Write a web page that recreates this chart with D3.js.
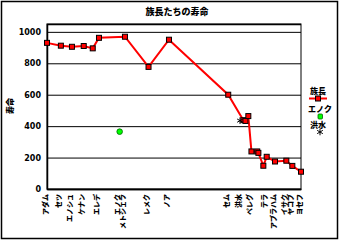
<!DOCTYPE html>
<html><head><meta charset="utf-8">
<script src="https://cdn.jsdelivr.net/npm/d3@7"></script>
<style>body{margin:0;background:#fff} svg{display:block}</style>
</head><body>
<script>
// Patriarchs (族長) – birth year and lifespan
const names = ["アダム","セツ","エノシュ","ケナン","マハラルエル","エレデ","メトシェラ","レメク","ノア","セム","アルパクシャデ","シェラフ","エベル","ペレグ","レウ","セルグ","ナホル","テラ","アブラハム","イサク","ヤコブ","ヨセフ"];
const birthYears = [0,120,216,318,396,450,675,879,1056,1569,1700,1718,1743,1770,1820,1830,1873,1902,1974,2072,2124,2199];
const lifespans = [930,912,905,910,895,962,969,777,950,600,438,433,464,239,239,230,148,205,175,180,147,110];
// Enoch (エノク)
const enochYear = [629];
const enochAge = [365];
// Flood (洪水)
const floodYear = [1671];
const floodValue = [435];
// x-axis labels shown
const xLabels = ["アダム","セツ","エノシュ","ケナン","エレデ","エノク","メトシェラ","レメク","ノア","セム","洪水","ペレグ","テラ","アブラハム","イサク","ヤコブ","ヨセフ"];
const xLabelYears = [0,120,216,318,450,629,675,879,1056,1569,1671,1770,1902,1974,2072,2124,2199];
const yTicks = [0,200,400,600,800,1000];
const title = "族長たちの寿命";
const yTitle = "寿命";
const legendNames = ["族長","エノク","洪水"];

const W = 340, H = 242;
const L = 47, R = 301, T = 24, B = 189;
const cjk = "'Noto Sans CJK JP', sans-serif";

const svg = d3.select("body").append("svg").attr("width", W).attr("height", H);
svg.append("rect").attr("x",1.5).attr("y",1.5).attr("width",W-4).attr("height",H-5)
  .attr("fill","#fff").attr("stroke","#000").attr("stroke-width",1.5);

const x = d3.scaleLinear().domain([0, 2199]).range([L, R]);
const y = d3.scaleLinear().domain([0, 1050]).range([B, T]);

// plot frame
svg.append("rect").attr("x",L).attr("y",T).attr("width",R-L).attr("height",B-T)
  .attr("fill","#fff").attr("stroke","#000").attr("stroke-width",1);

// grid
const yAxis = d3.axisLeft(y).tickValues(yTicks).tickSize(-(R-L)).tickPadding(6).tickFormat(d3.format("d"));
const gy = svg.append("g").attr("transform",`translate(${L},0)`).call(yAxis);
gy.select(".domain").attr("stroke","#000").attr("stroke-width",1.5);
gy.selectAll(".tick line").attr("stroke","#000").attr("stroke-width",1);
gy.selectAll(".tick text").attr("font-family","'DejaVu Sans', sans-serif").attr("font-weight","bold")
  .attr("font-size",8).attr("fill","#000");

// x axis
const xAxis = d3.axisBottom(x).tickValues(xLabelYears).tickSize(0).tickFormat((d,i)=>xLabels[i]);
const gx = svg.append("g").attr("transform",`translate(0,${B})`).call(xAxis);
gx.select(".domain").attr("stroke","#000").attr("stroke-width",1.5);
gx.selectAll(".tick text")
  .attr("transform","rotate(-90)")
  .attr("x",-5).attr("y",0).attr("dy","0")
  .attr("text-anchor","end")
  .attr("font-family",cjk).attr("font-weight",900).attr("font-size",7).attr("fill","#000");

// title
svg.append("text").attr("x",177).attr("y",15).attr("text-anchor","middle")
  .attr("font-family",cjk).attr("font-weight",900).attr("font-size",9).text(title);
svg.append("text").attr("transform","translate(13,106) rotate(-90)").attr("text-anchor","middle")
  .attr("font-family",cjk).attr("font-weight",900).attr("font-size",8).text(yTitle);

// patriarch line
const pts = birthYears.map((b,i)=>({b, a: lifespans[i]}));
svg.append("path").datum(pts)
  .attr("d", d3.line().x(d=>x(d.b)).y(d=>y(d.a)))
  .attr("fill","none").attr("stroke","#ff0000").attr("stroke-width",2);
svg.selectAll(".pt").data(pts).enter().append("rect")
  .attr("x",d=>x(d.b)-2.5).attr("y",d=>y(d.a)-2.5).attr("width",5).attr("height",5)
  .attr("fill","#ff0000").attr("stroke","#000").attr("stroke-width",1);

// Enoch
svg.selectAll(".en").data(enochYear).enter().append("circle")
  .attr("cx",(d)=>x(d)).attr("cy",(d,i)=>y(enochAge[i])).attr("r",2.8)
  .attr("fill","#00ff00").attr("stroke","#006600").attr("stroke-width",0.8);

// Flood
const ast = d3.symbol().type(d3.symbolAsterisk).size(30);
svg.selectAll(".fl").data(floodYear).enter().append("path")
  .attr("d", ast).attr("transform",(d,i)=>`translate(${x(d)},${y(floodValue[i])})`)
  .attr("fill","none").attr("stroke","#000").attr("stroke-width",1);

// legend
const lg = svg.append("g");
lg.append("text").attr("x",318).attr("y",94).attr("text-anchor","middle")
  .attr("font-family",cjk).attr("font-weight",900).attr("font-size",8).text(legendNames[0]);
lg.append("line").attr("x1",309).attr("x2",327).attr("y1",98.5).attr("y2",98.5)
  .attr("stroke","#ff0000").attr("stroke-width",2);
lg.append("rect").attr("x",315.5).attr("y",96).attr("width",5).attr("height",5)
  .attr("fill","#ff0000").attr("stroke","#000").attr("stroke-width",1);
lg.append("text").attr("x",320).attr("y",112).attr("text-anchor","middle")
  .attr("font-family",cjk).attr("font-weight",900).attr("font-size",8).text(legendNames[1]);
lg.append("rect").attr("x",318).attr("y",114).attr("width",4.5).attr("height",5).attr("rx",1)
  .attr("fill","#00ff00").attr("stroke","#006600").attr("stroke-width",0.8);
lg.append("text").attr("x",318).attr("y",128).attr("text-anchor","middle")
  .attr("font-family",cjk).attr("font-weight",900).attr("font-size",8).text(legendNames[2]);
lg.append("path").attr("d", ast).attr("transform","translate(320,132)")
  .attr("fill","none").attr("stroke","#000").attr("stroke-width",1);
</script>
</body></html>
